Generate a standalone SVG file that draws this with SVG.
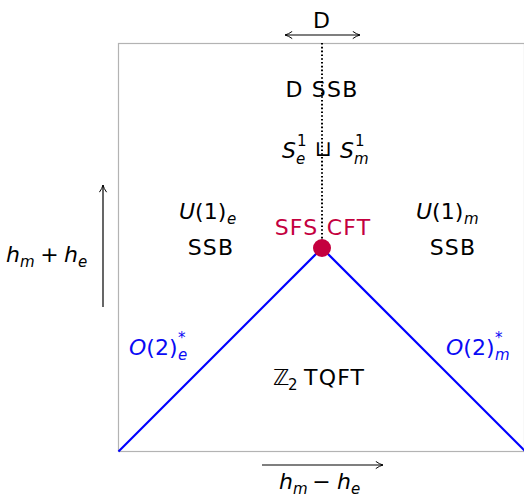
<svg xmlns="http://www.w3.org/2000/svg" width="524" height="499" viewBox="0 0 524 499">
<defs>
<marker id="ah" viewBox="0 0 10 10" refX="9" refY="5" markerWidth="9" markerHeight="9" markerUnits="userSpaceOnUse" orient="auto-start-reverse">
<path d="M1,1 Q5,4 9,5 Q5,6 1,9" fill="none" stroke="#000" stroke-width="1.1"/>
</marker>
<style>
text{font-family:"DejaVu Sans","Liberation Sans",sans-serif;font-size:22px;fill:#000}
.c{text-anchor:middle;letter-spacing:1.2px}
.m{font-style:italic}
.s{font-size:15px}
.red{fill:#C4003F}
.blue{fill:#0A0AF5}
.ax{stroke:#000;stroke-width:1.2;fill:none}
</style>
</defs>
<g id="frame">
<rect x="118.5" y="43.5" width="406" height="408" fill="none" stroke="#b3b3b3" stroke-width="1.2"/>
</g>
<g id="connectors">
<line x1="322" y1="43" x2="322" y2="248" stroke="#000" stroke-width="2" stroke-dasharray="1.6 2.2"/>
<line x1="118.5" y1="451.5" x2="322" y2="248" stroke="#0000FF" stroke-width="2.2"/>
<line x1="322" y1="248" x2="525.5" y2="451.5" stroke="#0000FF" stroke-width="2.2"/>
<line class="ax" x1="285" y1="35" x2="360" y2="35" marker-start="url(#ah)" marker-end="url(#ah)"/>
<line class="ax" x1="103" y1="307" x2="103" y2="185" marker-end="url(#ah)"/>
<line class="ax" x1="262" y1="465" x2="383" y2="465" marker-end="url(#ah)"/>
</g>
<g id="lbl-D"><text class="c" x="322" y="28">D</text></g>
<g id="lbl-vert">
<text class="m" x="6" y="262">h</text><text class="m s" x="20" y="267">m</text>
<text class="c" x="50" y="262">+</text>
<text class="m" x="64" y="262">h</text><text class="m s" x="78" y="267">e</text>
</g>
<g id="lbl-horiz">
<text class="m" x="279" y="489">h</text><text class="m s" x="293" y="494">m</text>
<text class="c" x="322" y="489">−</text>
<text class="m" x="337" y="489">h</text><text class="m s" x="351" y="494">e</text>
</g>
<g id="dssb"><text class="c" x="322" y="97">D SSB</text></g>
<g id="s1s1">
<text class="m" x="282" y="158">S</text><text class="s" x="297" y="146">1</text><text class="m s" x="296" y="164">e</text>
<text class="c" x="324" y="156">⊔</text>
<text class="m" x="340" y="158">S</text><text class="s" x="355" y="146">1</text><text class="m s" x="354" y="164">m</text>
</g>
<g id="sfs"><text class="c red" x="323" y="235">SFS CFT</text><circle cx="322" cy="248" r="9" fill="#C4003F"/></g>
<g id="u1e">
<text x="179" y="219"><tspan class="m">U</tspan>(1)</text><text class="m s" x="227" y="224">e</text>
<text class="c" x="211" y="255">SSB</text>
</g>
<g id="u1m">
<text x="416" y="219"><tspan class="m">U</tspan>(1)</text><text class="m s" x="464" y="224">m</text>
<text class="c" x="453" y="255">SSB</text>
</g>
<g id="o2e">
<text class="blue" x="129" y="355"><tspan class="m">O</tspan>(2)</text><text class="blue s" x="178" y="343">*</text><text class="blue m s" x="178" y="360">e</text>
</g>
<g id="o2m">
<text class="blue" x="446" y="355"><tspan class="m">O</tspan>(2)</text><text class="blue s" x="495" y="343">*</text><text class="blue m s" x="495" y="360">m</text>
</g>
<g id="tqft">
<text x="273" y="385">ℤ</text><text class="s" x="288" y="390">2</text><text x="304" y="385" style="letter-spacing:1.2px">TQFT</text>
</g>
</svg>
